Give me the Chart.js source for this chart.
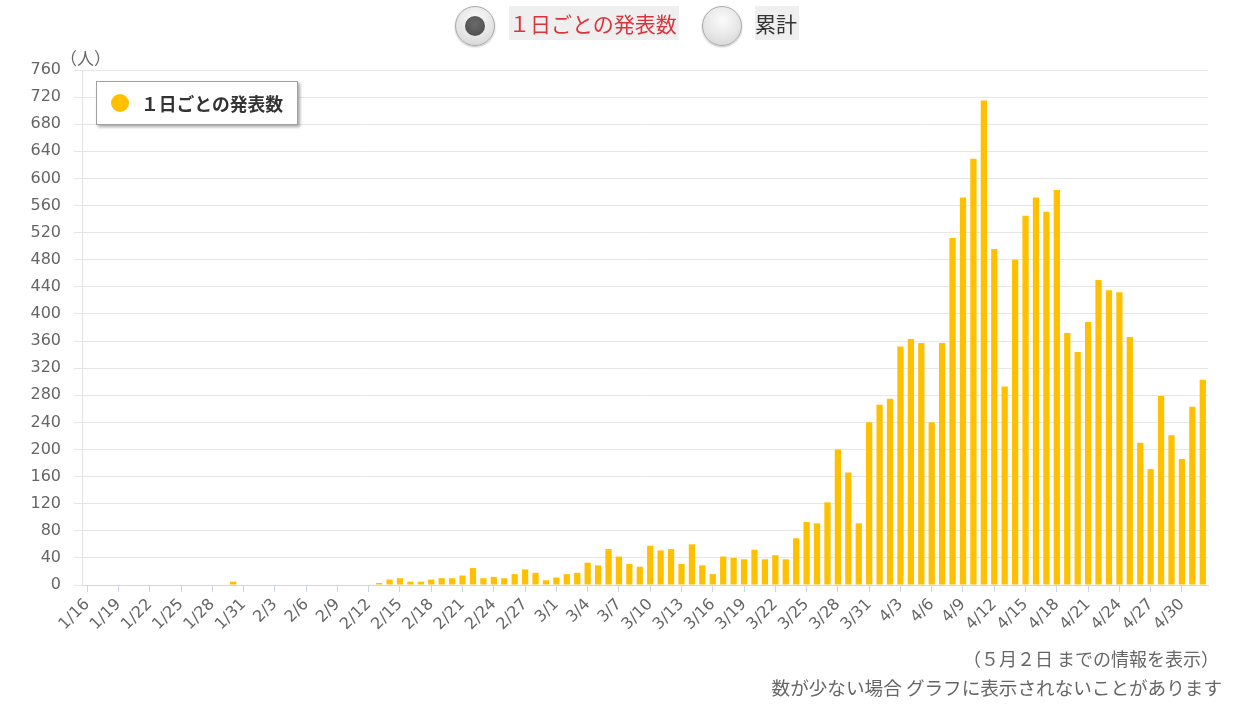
<!DOCTYPE html>
<html lang="ja">
<head>
<meta charset="utf-8">
<title>1日ごとの発表数</title>
<script src="https://cdn.jsdelivr.net/npm/chart.js@4.4.1/dist/chart.umd.min.js"></script>
<style>
  html, body { margin: 0; padding: 0; background: #fff; }
  body { width: 1233px; height: 705px; position: relative; overflow: hidden;
         font-family: "Noto Sans CJK JP", sans-serif; }
  #chart-wrap { position: absolute; left: 0; top: 0; width: 1233px; height: 705px; }
  .radio { position: absolute; width: 40px; height: 40px; border-radius: 50%;
           border: 1px solid #a8a8a8; box-sizing: border-box;
           background: radial-gradient(circle at 50% 35%, #fbfbfb 0%, #e6e6e6 55%, #cfcfcf 100%);
           box-shadow: 0 1px 2px rgba(0,0,0,0.25); }
  .radio .dot { position: absolute; left: 9px; top: 9px; width: 20px; height: 20px; border-radius: 50%;
                background: radial-gradient(circle at 50% 40%, #6a6a6a, #4a4a4a); }
  .btn-label { position: absolute; top: 6px; height: 34px; line-height: 34px; background: #efefef;
               font-size: 21px; white-space: nowrap; }
  #unit { position: absolute; left: 60px; top: 45px; font-size: 17px; color: #666; }
  #legend { position: absolute; left: 96px; top: 81px; width: 202px; height: 44px; box-sizing: border-box;
            background: #fff; border: 1px solid #a0a0a0; box-shadow: 2px 2px 3px rgba(0,0,0,0.35); }
  #legend .mark { position: absolute; left: 14px; top: 12px; width: 18px; height: 18px; border-radius: 50%; }
  #legend .text { position: absolute; left: 44px; top: 0; line-height: 42px; font-size: 17.8px; font-weight: bold;
                  color: #333; white-space: nowrap; }
  .note { position: absolute; font-size: 18px; color: #666; white-space: nowrap; }
</style>
</head>
<body>
<div id="chart-wrap"><canvas id="daily-chart" width="1233" height="705"></canvas></div>

<div class="radio" style="left:455px; top:6px;"><div class="dot"></div></div>
<div class="btn-label" style="left:509px; width:170px; color:#d9343c;">１日ごとの発表数</div>
<div class="radio" style="left:702px; top:6px;"></div>
<div class="btn-label" style="left:755px; width:44px; color:#333;">累計</div>

<div id="unit">（人）</div>
<div id="legend"><div class="mark"></div><div class="text"></div></div>

<div class="note" style="top:645px; right:14px;">（５月２日 までの情報を表示）</div>
<div class="note" style="top:673px; right:11px; font-size:18.6px;">数が少ない場合 グラフに表示されないことがあります</div>

<script>
// 1/16 - 5/2, one entry per day
const dates = [
  '1/16','1/17','1/18','1/19','1/20','1/21','1/22','1/23','1/24','1/25','1/26','1/27','1/28','1/29','1/30','1/31',
  '2/1','2/2','2/3','2/4','2/5','2/6','2/7','2/8','2/9','2/10','2/11','2/12','2/13','2/14','2/15','2/16',
  '2/17','2/18','2/19','2/20','2/21','2/22','2/23','2/24','2/25','2/26','2/27','2/28','2/29',
  '3/1','3/2','3/3','3/4','3/5','3/6','3/7','3/8','3/9','3/10','3/11','3/12','3/13','3/14','3/15','3/16',
  '3/17','3/18','3/19','3/20','3/21','3/22','3/23','3/24','3/25','3/26','3/27','3/28','3/29','3/30','3/31',
  '4/1','4/2','4/3','4/4','4/5','4/6','4/7','4/8','4/9','4/10','4/11','4/12','4/13','4/14','4/15','4/16',
  '4/17','4/18','4/19','4/20','4/21','4/22','4/23','4/24','4/25','4/26','4/27','4/28','4/29','4/30',
  '5/1','5/2'
];

const dailyCounts = [
  0, 0, 0, 0, 0, 0, 0, 0, 0, 0, 0, 0, 0, 0, 5, 0,
  0, 0, 0, 0, 0, 0, 0, 0, 0, 0, 0, 0, 3, 8, 10, 5,
  5, 8, 10, 10, 14, 25, 10, 12, 10, 16, 23, 18, 7,
  11, 16, 18, 33, 29, 53, 42, 31, 27, 58, 51, 53, 31, 60, 29, 16,
  42, 40, 38, 52, 38, 44, 38, 69, 93, 91, 122, 200, 166, 91, 240,
  266, 275, 352, 363, 357, 240, 357, 512, 572, 629, 715, 496, 293, 480, 545, 572,
  551, 583, 372, 344, 388, 450, 435, 432, 366, 210, 171, 279, 221, 186,
  263, 303
];

const seriesName = '１日ごとの発表数';
const yMax = 760;
const yStep = 40;
const labelEvery = 3;

const barColor = '#ffc000';
const tickFont = { family: '"DejaVu Sans", "Noto Sans CJK JP", sans-serif', size: 16 };

const ctx = document.getElementById('daily-chart');
const chart = new Chart(ctx, {
  type: 'bar',
  data: {
    labels: dates,
    datasets: [{
      label: seriesName,
      data: dailyCounts,
      backgroundColor: barColor,
      borderWidth: 0,
      barPercentage: 0.6,
      categoryPercentage: 1
    }]
  },
  options: {
    responsive: false,
    animation: false,
    events: [],
    layout: { padding: { left: 0, top: 70, right: 25, bottom: 0 } },
    plugins: {
      legend: { display: false },
      tooltip: { enabled: false }
    },
    scales: {
      x: {
        offset: true,
        afterFit: scale => { scale.height = 120; },
        border: { display: true, color: '#ccd6eb', width: 1 },
        grid: {
          offset: false,
          drawOnChartArea: false,
          drawTicks: true,
          tickLength: 7,
          tickColor: c => (c.index % labelEvery === 0 ? '#ccd6eb' : 'rgba(0,0,0,0)')
        },
        ticks: {
          autoSkip: false,
          minRotation: 45,
          maxRotation: 45,
          padding: 3,
          color: '#666',
          font: tickFont,
          callback: (value, index) => (index % labelEvery === 0 ? dates[index] : '')
        }
      },
      y: {
        min: 0,
        max: yMax,
        afterFit: scale => { scale.width = 82; },
        border: { display: true, color: '#e0e3ee', width: 1 },
        grid: { color: '#e6e6e6', lineWidth: 1, tickLength: 8 },
        ticks: {
          stepSize: yStep,
          padding: 13,
          color: '#666',
          font: tickFont
        }
      }
    }
  }
});

// html legend built from the dataset
const ds = chart.data.datasets[0];
document.querySelector('#legend .mark').style.background = ds.backgroundColor;
document.querySelector('#legend .text').textContent = ds.label;
</script>
</body>
</html>
